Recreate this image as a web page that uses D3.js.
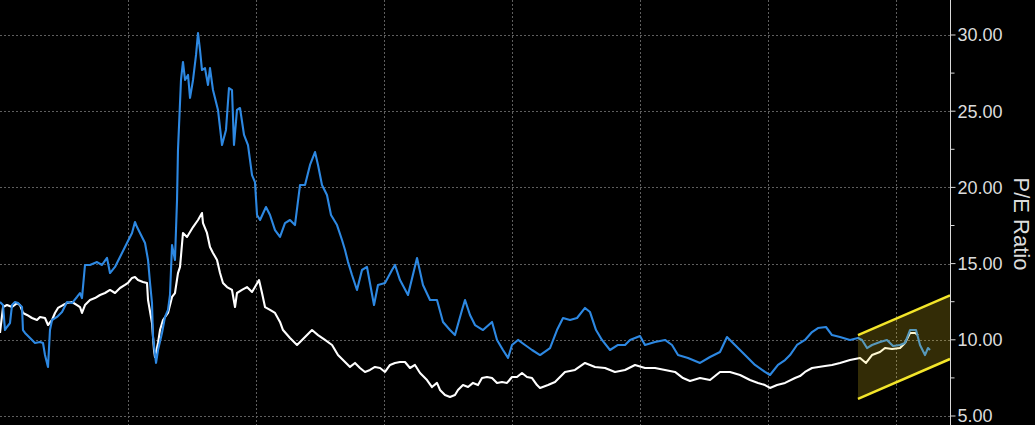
<!DOCTYPE html>
<html><head><meta charset="utf-8">
<script src="https://cdn.jsdelivr.net/npm/d3@7/dist/d3.min.js"></script>
<style>html,body{margin:0;padding:0;background:#000;}svg{display:block;}</style>
</head><body>
<script>
// ---- data (fractional year, P/E) ----
const blueT = [2006.000,2006.047,2006.078,2006.109,2006.156,2006.188,2006.234,2006.281,2006.344,2006.359,2006.391,2006.469,2006.547,2006.625,2006.672,2006.703,2006.750,2006.781,2006.813,2006.891,2006.969,2007.047,2007.125,2007.203,2007.250,2007.281,2007.328,2007.406,2007.516,2007.594,2007.672,2007.719,2007.797,2007.875,2007.984,2008.063,2008.109,2008.141,2008.219,2008.266,2008.313,2008.344,2008.375,2008.391,2008.438,2008.469,2008.531,2008.578,2008.625,2008.656,2008.688,2008.734,2008.766,2008.781,2008.828,2008.859,2008.891,2008.938,2008.969,2009.016,2009.063,2009.094,2009.125,2009.156,2009.203,2009.250,2009.281,2009.328,2009.406,2009.469,2009.531,2009.578,2009.625,2009.656,2009.703,2009.750,2009.813,2009.875,2009.938,2009.984,2010.016,2010.063,2010.156,2010.219,2010.297,2010.375,2010.453,2010.531,2010.609,2010.688,2010.766,2010.844,2010.922,2010.969,2011.031,2011.109,2011.172,2011.266,2011.344,2011.391,2011.438,2011.500,2011.578,2011.656,2011.734,2011.844,2011.906,2012.016,2012.125,2012.172,2012.250,2012.375,2012.516,2012.609,2012.719,2012.828,2012.922,2013.031,2013.109,2013.219,2013.266,2013.344,2013.422,2013.547,2013.688,2013.766,2013.859,2013.938,2014.000,2014.094,2014.203,2014.313,2014.438,2014.594,2014.703,2014.797,2014.906,2015.016,2015.141,2015.219,2015.313,2015.406,2015.531,2015.656,2015.766,2015.844,2016.000,2016.078,2016.234,2016.391,2016.500,2016.594,2016.750,2016.938,2017.094,2017.250,2017.359,2017.484,2017.641,2017.797,2017.953,2018.031,2018.156,2018.266,2018.344,2018.453,2018.578,2018.688,2018.781,2018.906,2019.000,2019.125,2019.281,2019.406,2019.469,2019.547,2019.625,2019.750,2019.859,2019.953,2020.063,2020.141,2020.219,2020.313,2020.375,2020.453,2020.500,2020.531];
const blueV = [12.48,12.28,10.64,10.84,11.10,12.28,12.48,12.41,12.15,10.64,10.45,10.12,9.79,9.86,9.79,9.00,8.22,10.64,11.30,11.50,11.82,12.48,12.41,12.81,13.07,12.74,14.91,14.91,15.10,14.91,15.37,14.38,14.78,15.43,16.35,17.01,17.73,17.40,16.75,16.35,15.24,13.73,12.41,10.18,8.48,9.33,10.45,11.50,11.96,12.94,16.22,15.24,19.17,22.45,27.05,28.23,27.05,27.38,25.87,27.05,28.69,30.13,29.02,27.70,27.83,26.72,27.83,26.39,25.08,22.78,23.77,26.52,26.39,22.78,25.08,25.21,23.44,22.78,20.81,20.35,18.19,17.86,18.71,18.19,17.20,16.75,17.66,17.86,17.53,20.16,20.16,21.47,22.32,21.47,20.16,19.50,18.19,17.53,16.55,15.89,15.10,14.25,13.27,14.58,14.78,12.28,13.60,13.73,14.58,14.91,13.92,12.94,15.37,13.60,12.61,12.61,11.17,10.64,10.31,11.96,12.61,11.63,10.97,10.64,11.17,9.99,9.33,8.81,9.66,9.99,9.66,9.33,9.00,9.46,10.64,11.43,11.30,11.43,12.09,11.82,10.64,9.99,9.33,9.66,9.66,9.99,10.25,9.66,9.86,9.99,9.66,9.00,8.81,8.48,8.87,9.20,10.18,9.66,9.00,8.35,7.89,7.69,8.35,8.67,9.00,9.66,9.99,10.51,10.77,10.84,10.31,10.18,9.99,10.12,9.99,9.46,9.66,9.86,9.99,9.59,9.66,9.79,10.64,10.64,9.66,9.00,9.46,9.33];

const whiteT = [2006.000,2006.047,2006.109,2006.188,2006.266,2006.313,2006.359,2006.422,2006.500,2006.578,2006.625,2006.703,2006.750,2006.813,2006.859,2006.906,2006.984,2007.047,2007.125,2007.203,2007.250,2007.281,2007.328,2007.406,2007.484,2007.563,2007.641,2007.719,2007.797,2007.875,2007.953,2008.000,2008.063,2008.109,2008.156,2008.234,2008.297,2008.313,2008.375,2008.406,2008.422,2008.469,2008.500,2008.547,2008.625,2008.688,2008.734,2008.781,2008.813,2008.859,2008.922,2008.969,2009.016,2009.094,2009.156,2009.172,2009.234,2009.281,2009.328,2009.391,2009.438,2009.484,2009.547,2009.625,2009.672,2009.703,2009.781,2009.859,2009.938,2009.984,2010.047,2010.094,2010.141,2010.219,2010.297,2010.375,2010.422,2010.531,2010.641,2010.766,2010.875,2010.969,2011.078,2011.188,2011.281,2011.391,2011.469,2011.547,2011.625,2011.703,2011.781,2011.859,2011.938,2012.016,2012.094,2012.172,2012.250,2012.328,2012.406,2012.484,2012.563,2012.672,2012.750,2012.828,2012.875,2012.953,2013.031,2013.109,2013.156,2013.234,2013.313,2013.391,2013.469,2013.531,2013.609,2013.688,2013.766,2013.844,2013.922,2014.000,2014.078,2014.156,2014.234,2014.313,2014.391,2014.438,2014.563,2014.672,2014.828,2014.984,2015.141,2015.297,2015.453,2015.609,2015.766,2015.922,2016.078,2016.234,2016.391,2016.547,2016.672,2016.781,2016.938,2017.094,2017.250,2017.406,2017.563,2017.719,2017.844,2017.953,2018.031,2018.141,2018.266,2018.422,2018.500,2018.578,2018.688,2018.891,2019.000,2019.125,2019.281,2019.438,2019.531,2019.625,2019.750,2019.828,2019.938,2020.063,2020.141,2020.219,2020.297,2020.344];
const whiteV = [10.45,12.15,12.28,12.15,12.41,12.28,11.76,11.63,11.43,11.30,11.50,11.43,10.97,11.30,11.76,12.09,12.28,12.41,12.48,12.28,12.15,11.76,12.28,12.61,12.74,12.94,13.07,13.27,13.07,13.40,13.60,13.73,14.06,14.12,13.92,13.79,13.73,12.61,11.10,9.33,8.87,9.79,10.64,11.30,11.76,12.81,13.07,14.38,14.78,17.01,16.75,17.07,17.40,17.86,18.32,17.66,17.01,16.09,15.70,15.24,14.38,13.73,13.46,13.27,12.15,13.07,13.27,13.46,13.14,13.46,13.92,13.07,12.15,11.96,11.76,11.17,10.64,10.12,9.66,10.18,10.64,10.31,9.99,9.66,9.00,8.54,8.22,8.48,8.15,7.89,8.02,8.22,8.15,7.89,8.35,8.48,8.54,8.54,8.15,8.35,7.82,7.36,6.90,7.17,6.71,6.38,6.25,6.38,6.71,7.03,6.90,7.17,7.03,7.49,7.56,7.49,7.17,7.23,7.17,7.56,7.56,7.82,7.56,7.49,7.03,6.84,7.03,7.23,7.89,8.02,8.48,8.22,8.15,7.89,8.02,8.35,8.15,8.15,8.02,7.89,7.49,7.30,7.49,7.36,7.89,7.89,7.69,7.36,7.17,7.03,6.84,7.03,7.17,7.49,7.62,7.89,8.15,8.28,8.35,8.48,8.67,8.81,8.48,9.00,9.20,9.46,9.40,9.46,9.79,10.45,10.45,10.31];

// trend channel (start/end year, upper and lower values)
const channelT = [2019.406, 2020.844];
const channelUpper = [10.31, 12.91];
const channelLower = [6.12, 8.74];

const yTicks = [5, 10, 15, 20, 25, 30];
const yMinorTicks = [7.5, 12.5, 17.5, 22.5, 27.5];
const xGridYears = [2008, 2010, 2012, 2014, 2016, 2018, 2020];
const xDomain = [2006, 2020.84375];
const yLabel = "P/E Ratio";

// ---- drawing ----
const W = 1035, H = 425;
const svg = d3.select("body").append("svg").attr("width", W).attr("height", H)
  .style("background", "#000");
const x = d3.scaleLinear().domain(xDomain).range([0, 950]);
const y = d3.scaleLinear().domain([5, 30]).range([416, 35]);

const grid = svg.append("g").attr("stroke", "#5e5e5e").attr("stroke-width", 1)
  .attr("stroke-dasharray", "2,2");
grid.selectAll("line.h").data(yTicks).join("line").attr("class", "h")
  .attr("x1", 0).attr("x2", 950)
  .attr("y1", d => Math.round(y(d)) + 0.5).attr("y2", d => Math.round(y(d)) + 0.5);
grid.selectAll("line.v").data(xGridYears).join("line").attr("class", "v")
  .attr("y1", 0).attr("y2", H)
  .attr("x1", d => Math.round(x(d)) + 0.5).attr("x2", d => Math.round(x(d)) + 0.5);

const line = d3.line().x(d => x(d[0])).y(d => y(d[1]));
const blue = blueT.map((t, i) => [t, blueV[i]]);
const white = whiteT.map((t, i) => [t, whiteV[i]]);

svg.append("path").datum(white).attr("d", line).attr("fill", "none")
  .attr("stroke", "#ffffff").attr("stroke-width", 2.1).attr("stroke-linejoin", "round");
svg.append("path").datum(blue).attr("d", line).attr("fill", "none")
  .attr("stroke", "#2d88e2").attr("stroke-width", 2.1).attr("stroke-linejoin", "round");

// channel overlay
const poly = [
  [channelT[0], channelUpper[0]], [channelT[1], channelUpper[1]],
  [channelT[1], channelLower[1]], [channelT[0], channelLower[0]]
];
svg.append("path").attr("d", "M" + poly.map(p => [x(p[0]), y(p[1])].join(",")).join("L") + "Z")
  .attr("fill", "rgba(255,222,30,0.2)").attr("stroke", "none");
svg.append("line").attr("x1", x(channelT[0])).attr("x2", x(channelT[1]))
  .attr("y1", y(channelUpper[0])).attr("y2", y(channelUpper[1]))
  .attr("stroke", "#f3e52a").attr("stroke-width", 2.5);
svg.append("line").attr("x1", x(channelT[0])).attr("x2", x(channelT[1]))
  .attr("y1", y(channelLower[0])).attr("y2", y(channelLower[1]))
  .attr("stroke", "#f3e52a").attr("stroke-width", 2.5);

// right axis
const ax = svg.append("g").attr("transform", "translate(950.5,0)");
ax.append("line").attr("x1", 0).attr("x2", 0).attr("y1", 0).attr("y2", H)
  .attr("stroke", "#d8d8d8").attr("stroke-width", 1);
ax.selectAll("line.mj").data(yTicks).join("line").attr("class", "mj")
  .attr("x1", 0).attr("x2", 5).attr("y1", d => y(d)).attr("y2", d => y(d))
  .attr("stroke", "#d8d8d8");
ax.selectAll("line.mn").data(yMinorTicks).join("line").attr("class", "mn")
  .attr("x1", 0).attr("x2", 4).attr("y1", d => y(d)).attr("y2", d => y(d))
  .attr("stroke", "#d8d8d8");
ax.selectAll("text").data(yTicks).join("text")
  .attr("x", 7).attr("y", d => y(d)).attr("dy", "0.36em")
  .attr("fill", "#dcdcdc").attr("font-family", "'Liberation Sans', Arial, sans-serif")
  .attr("font-size", 18).text(d => d3.format(".2f")(d));

svg.append("text").attr("transform", `translate(1014,${y(17.6)}) rotate(90)`)
  .attr("text-anchor", "middle").attr("fill", "#dcdcdc")
  .attr("font-family", "'Liberation Sans', Arial, sans-serif")
  .attr("font-size", 22).text(yLabel);
</script>
</body></html>
